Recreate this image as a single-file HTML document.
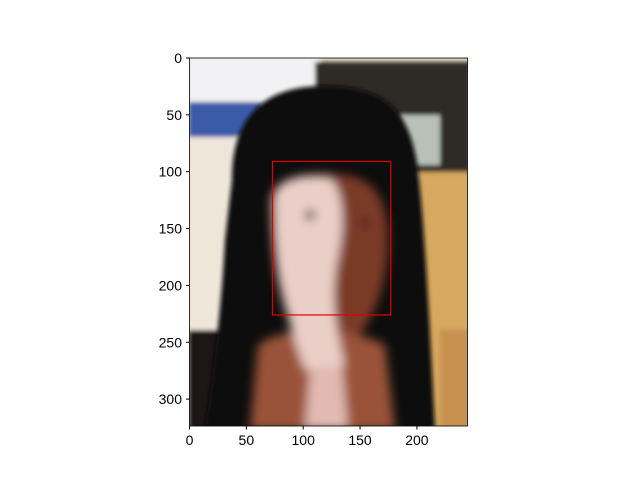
<!DOCTYPE html>
<html><head><meta charset="utf-8"><style>
body{margin:0;background:#fff;}
svg text{font-family:"Liberation Sans","DejaVu Sans",sans-serif;font-size:14px;fill:#000}
</style></head><body>
<svg id="chart" width="640" height="480" viewBox="0 0 640 480" xmlns="http://www.w3.org/2000/svg">
<defs>
<clipPath id="imgclip"><rect x="189.5" y="58" width="278" height="368"/></clipPath>
<filter id="bl"><feGaussianBlur stdDeviation="2"/></filter>
<filter id="bl2"><feGaussianBlur stdDeviation="5"/></filter>
</defs>
<g clip-path="url(#imgclip)">
<rect x="189" y="58" width="279" height="368" fill="#e6dcc6"/>
<g filter="url(#bl)">
<rect x="189" y="55" width="130" height="50" fill="#f2f2f4"/>
<rect x="189" y="102" width="73" height="35" fill="#3a5aa8"/>
<rect x="189" y="137" width="60" height="200" fill="#efe6da"/>
<rect x="315" y="62" width="155" height="110" fill="#2e2a28"/>
<rect x="400" y="115" width="40" height="50" fill="#b8c0b8"/>
<rect x="418" y="172" width="52" height="260" fill="#d6a860"/>
<rect x="440" y="330" width="30" height="100" fill="#c89050"/>
<rect x="189" y="330" width="50" height="100" fill="#1e1616"/>
</g>
<path d="M232,180 C232,110 270,86 325,86 C385,86 410,110 418,170 C425,230 430,330 435,430 L205,430 C215,360 222,300 225,240 Z" fill="#0c0808" filter="url(#bl)"/>
<g filter="url(#bl2)">
<path d="M270,200 C272,178 300,172 335,174 C375,175 388,200 388,240 C388,290 370,320 360,335 L300,340 C282,310 270,270 270,200 Z" fill="#7a3a28"/>
<path d="M258,345 C285,325 345,325 385,345 L395,430 L250,430 Z" fill="#9a5238"/>
<path d="M274,200 C277,180 300,174 330,178 C345,192 345,230 337,262 C332,290 333,320 345,365 L305,370 C288,325 274,270 274,200 Z" fill="#eacfc8"/>
<path d="M310,370 L342,365 L348,430 L305,430 Z" fill="#e2bab2"/>
<circle cx="310" cy="215" r="5" fill="#201010"/>
<circle cx="365" cy="222" r="4" fill="#301010"/>
</g>
</g>
<rect x="189.5" y="58" width="278" height="368" fill="none" stroke="#000" stroke-width="0.8"/>
<rect id="box" fill="none" stroke="#e00000" stroke-width="1.2"/>
<g id="xt"></g><g id="yt"></g>
</svg>
<script>
const xTicks=[0,50,100,150,200];
const yTicks=[0,50,100,150,200,250,300];
const faceBox=[73,91,177,226];
const X0=189.5,Y0=58,S=1.137;
const sx=v=>X0+v*S, sy=v=>Y0+v*S;
const ns="http://www.w3.org/2000/svg";
const b=document.getElementById('box');
b.setAttribute('x',sx(faceBox[0]));b.setAttribute('y',sy(faceBox[1]));
b.setAttribute('width',(faceBox[2]-faceBox[0])*S);b.setAttribute('height',(faceBox[3]-faceBox[1])*S);
const xt=document.getElementById('xt'),yt=document.getElementById('yt');
xTicks.forEach(v=>{
 const l=document.createElementNS(ns,'line');
 
 
 l.setAttribute('x1',sx(v));l.setAttribute('x2',sx(v));l.setAttribute('y1',426);l.setAttribute('y2',429.5);l.setAttribute('stroke','#000');xt.appendChild(l);
 const t=document.createElementNS(ns,'text');
 
 
 t.setAttribute('x',sx(v));t.setAttribute('y',445);t.setAttribute('text-anchor','middle');t.textContent=v;xt.appendChild(t);
});
yTicks.forEach(v=>{
 const l=document.createElementNS(ns,'line');
 
 
 l.setAttribute('x1',186);l.setAttribute('x2',189.5);l.setAttribute('y1',sy(v));l.setAttribute('y2',sy(v));l.setAttribute('stroke','#000');yt.appendChild(l);
 const t=document.createElementNS(ns,'text');
 
 
 t.setAttribute('x',182);t.setAttribute('y',sy(v)+5);t.setAttribute('text-anchor','end');t.textContent=v;yt.appendChild(t);
});
</script>
</body></html>
